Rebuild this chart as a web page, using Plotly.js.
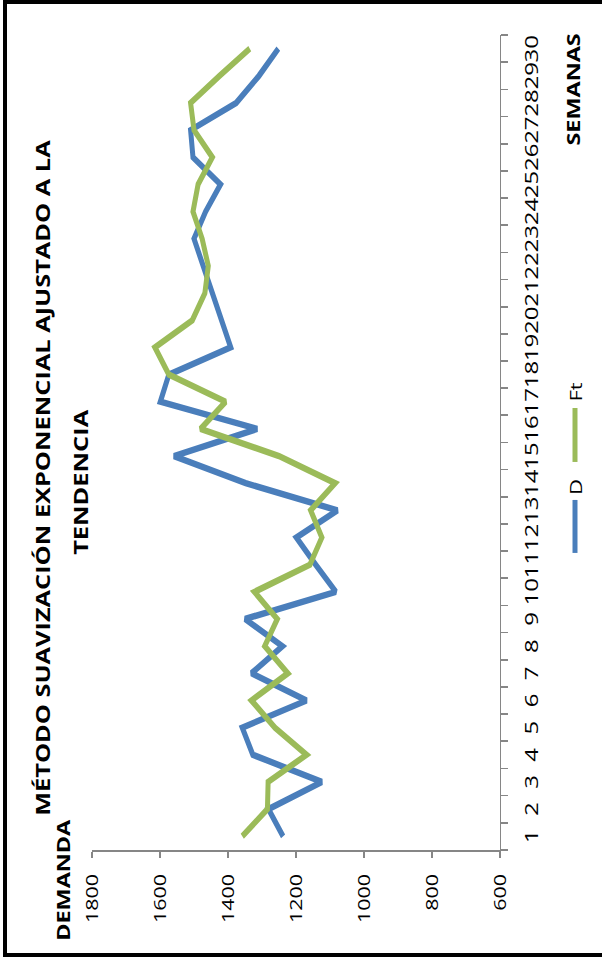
<!DOCTYPE html>
<html>
<head>
<meta charset="utf-8">
<script src="https://cdn.plot.ly/plotly-3.0.1.min.js"></script>
<style>
html,body{margin:0;padding:0;width:602px;height:959px;overflow:hidden;background:#fff;}
#wrap{position:absolute;left:0;top:0;width:602px;height:959px;overflow:hidden;}
#chart{position:absolute;left:0;top:0;transform-origin:0 0;}
#frame{position:absolute;left:3px;top:0;width:640px;height:957px;border:4px solid #000;box-sizing:border-box;pointer-events:none;}
</style>
</head>
<body>
<div id="wrap"><div id="chart"></div><div id="frame"></div></div>
<script>
// ---- data ----
const semanas = ['1','2','3','4','5','6','7','8','9','10','11','12','13','14','15','16','17','18','19','20','21','22','23','24','25','26','27','28','29','30'];
const demandaD = [1238,1281,1124,1327,1358,1169,1331,1240,1350,1083,1142,1199,1078,1348,1559,1314,1599,1574,1392,1419,1446,1473,1500,1466,1422,1503,1510,1376,1309,1252];
const pronosticoFt = [1358,1284,1282,1169,1262,1331,1224,1292,1255,1322,1159,1124,1157,1085,1250,1481,1407,1574,1615,1505,1468,1458,1476,1503,1488,1446,1500,1510,1425,1336];
const valueTicks = [600,800,1000,1200,1400,1600,1800];
const seriesNames = ['D', 'Ft'];
const seriesColors = ['#4A7EBB', '#9BBB59'];
const titleLine1 = 'MÉTODO SUAVIZACIÓN EXPONENCIAL AJUSTADO A LA';
const titleLine2 = 'TENDENCIA';
const yTitle = 'DEMANDA';
const xTitle = 'SEMANAS';

// ---- geometry: chart drawn unrotated, then rotated -90deg and stretched ----
const FULL = 959, H = 602;
const W = 738;
const S = FULL / W;
const el = document.getElementById('chart');
el.style.width = W + 'px';
el.style.height = H + 'px';
el.style.transform = 'translate(0px,' + FULL + 'px) rotate(-90deg) scaleX(' + S + ')';

// plot area in unrotated (stretched) units
const uL = 109, uR = 924, vT = 92, vB = 500;
const mL = uL / S, mR = W - uR / S, mT = vT, mB = H - vB;
const pw = W - mL - mR, ph = vB - vT;
const px = u => (u / S - mL) / pw;
const py = v => (vB - v) / ph;

const FONT = '"Open Sans", "Liberation Sans", sans-serif';
const LW = 5;

const traces = [
  {x: semanas, y: demandaD, name: seriesNames[0], type: 'scatter', mode: 'lines',
   line: {color: seriesColors[0], width: LW}},
  {x: semanas, y: pronosticoFt, name: seriesNames[1], type: 'scatter', mode: 'lines',
   line: {color: seriesColors[1], width: LW}}
];

// custom legend (long line samples like the original)
const legLines = [[406, 459], [497, 551]];
const legText = [472, 567];
const legV = 575;
const shapes = legLines.map((r, i) => ({
  type: 'line', xref: 'paper', yref: 'paper', x0: px(r[0]), x1: px(r[1]), y0: py(legV), y1: py(legV),
  line: {color: seriesColors[i], width: LW}
}));

const annotations = [
  {text: '<b>' + titleLine1 + '</b>', xref: 'paper', yref: 'paper', x: px(482), y: py(43),
   xanchor: 'center', yanchor: 'middle', showarrow: false, font: {family: FONT, size: 19.5, color: '#000'}},
  {text: '<b>' + titleLine2 + '</b>', xref: 'paper', yref: 'paper', x: px(477), y: py(80),
   xanchor: 'center', yanchor: 'middle', showarrow: false, font: {family: FONT, size: 19.5, color: '#000'}},
  {text: '<b>' + yTitle + '</b>', xref: 'paper', yref: 'paper', x: px(79), y: py(63),
   xanchor: 'center', yanchor: 'middle', showarrow: false, font: {family: FONT, size: 18, color: '#000'}},
  {text: '<b>' + xTitle + '</b>', xref: 'paper', yref: 'paper', x: px(869), y: py(573),
   xanchor: 'center', yanchor: 'middle', showarrow: false, font: {family: FONT, size: 18, color: '#000'}}
];
seriesNames.forEach((n, i) => annotations.push({
  text: n, xref: 'paper', yref: 'paper', x: px(legText[i]), y: py(legV),
  xanchor: 'center', yanchor: 'middle', showarrow: false, font: {family: FONT, size: 17, color: '#000'}
}));

const layout = {
  width: W, height: H,
  margin: {l: mL, r: mR, t: mT, b: mB, pad: 0},
  paper_bgcolor: '#ffffff', plot_bgcolor: '#ffffff',
  font: {family: FONT, size: 16, color: '#000'},
  showlegend: false,
  xaxis: {type: 'category', range: [-0.5, semanas.length - 0.5], tickson: 'boundaries',
          tickmode: 'linear', tick0: 0, dtick: 1, tickangle: 0,
          ticks: 'outside', ticklen: 7, tickwidth: 1.3,
          tickcolor: '#868686', showline: true, linecolor: '#868686', linewidth: 1.3,
          showgrid: false, zeroline: false, tickfont: {family: FONT, size: 18.5, color: '#000'},
          ticklabelstandoff: 15, fixedrange: true},
  yaxis: {range: [600, 1800], tickvals: valueTicks, ticktext: valueTicks.map(String),
          ticks: 'outside', ticklen: 5, tickwidth: 1.3, tickcolor: '#868686',
          showline: true, linecolor: '#868686', linewidth: 1.3, showgrid: false, zeroline: false,
          tickfont: {family: FONT, size: 16.5, color: '#000'}, ticklabelstandoff: 9, fixedrange: true},
  shapes: shapes,
  annotations: annotations
};

Plotly.newPlot('chart', traces, layout, {displayModeBar: false, staticPlot: true});
</script>
</body>
</html>
